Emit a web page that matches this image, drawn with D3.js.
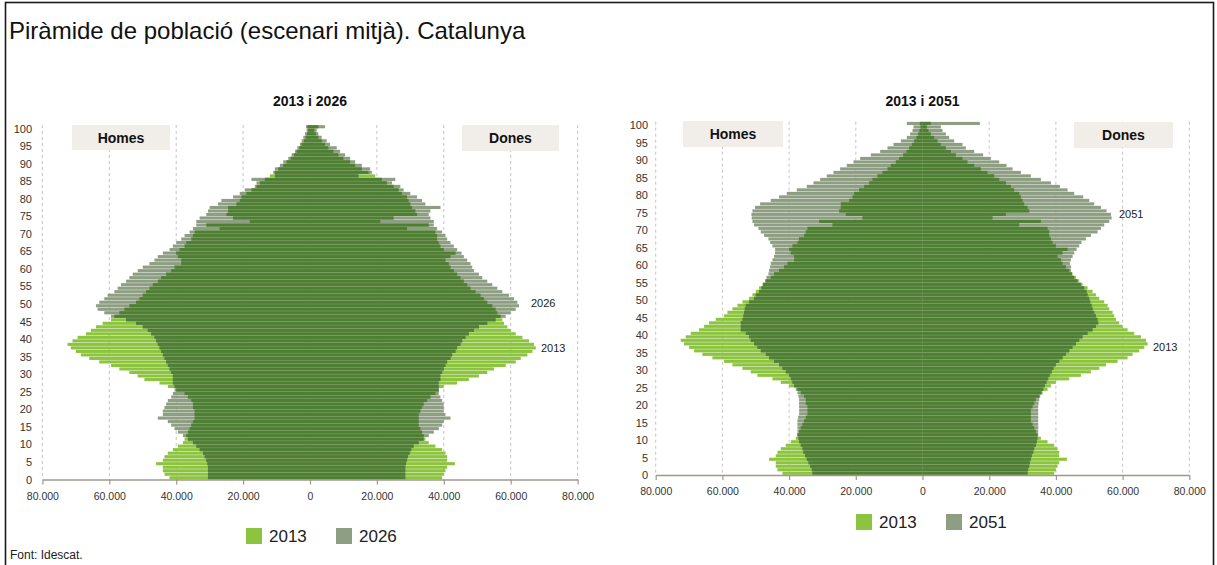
<!DOCTYPE html>
<html><head><meta charset="utf-8">
<script src="https://cdn.jsdelivr.net/npm/d3@7"></script>
<style>
html,body{margin:0;padding:0;background:#fff;}
svg{display:block;font-family:"Liberation Sans",Arial,Helvetica,sans-serif;}
</style></head>
<body><svg id="c" width="1217" height="565"></svg>
<script>
// ---------- DATA (thousands of people) ----------
const ages = d3.range(0, 101);
const ageTicks = d3.range(0, 101, 5);
const xTickValues = [-80, -60, -40, -20, 0, 20, 40, 60, 80];
const xTickLabels = ["80.000","60.000","40.000","20.000","0","20.000","40.000","60.000","80.000"];

const men2013 = [42,43.5,44,44,46,44,43.5,42.5,41,39.5,
 38,37.5,37,36.5,36,35.5,35,34.5,34.5,34.5,
 35,35,35.5,36.5,37.5,40,42.5,45,49.5,51.5,
 54,57,59.5,63,66,68.5,70,71.5,72.5,71,
 69.5,67,65.5,64,62,59.5,58.5,57,55.5,54,
 52,51,50,49,48,47,45.5,44.5,43,41.5,
 40.5,38.5,38.5,39.5,40,39,37.5,37,35.5,35,
 34.5,27,31,18,23,25,24.5,24.5,22,21,
 20.5,19,17.5,16,15,13.5,12,10.5,9.5,8,
 7,5.8,4.8,4,3.2,2.5,1.8,1.3,0.9,0.6,0.8];
const women2013 = [39.5,40,40.5,41,43.3,41,41,40.5,39.5,37.5,
 35.5,34.5,34,33.5,33,32.5,32.5,32.5,32.5,33,
 33.5,34,35,36,37.5,38.5,40,44,47.5,50.5,
 53,55,58.5,61.5,63,65,66.5,67.5,67,65.5,
 63.5,61.5,60,59,58,57.5,57,56,55.5,54.5,
 53,52,51,49.5,48,47,46,45,44,43,
 42,41.5,40.5,42,43.5,40,39,38.5,38,38,
 37.5,29,35.5,21,25,32,31.5,30.5,30,29.5,
 29,27.5,26.5,25,23,21.5,19.5,17.5,15.5,13.5,
 12,10,8.5,7,5.5,4.5,3.5,2.5,1.8,1.3,2.5];
const men2026 = [30.5,30.5,30.5,30.5,30.7,31,31.5,32,33,34,
 35,36.5,38,39.5,40.5,41.5,42.5,45.5,44,44,
 43.5,43,42.5,41.5,41,40.5,40.5,41,41,41,
 41.5,42,42.5,43,43.5,44,44.5,45,45.5,46,
 46.5,47.5,48.5,50,52,55,59.5,61.5,63.5,64,
 63,61.5,60.5,58.5,57.5,56.5,55,54,53,51.5,
 50,48,46.5,45.5,44,42,41,40,38.5,37.5,
 36,35,34,34,33,31,30.5,30,27.5,26.5,
 23,21,19.5,16.5,16,17.5,10.5,11,10.5,9,
 8,6.5,5.5,4.5,3.8,3,2.5,2,1.5,1,1.2];
const women2026 = [28.5,28.5,28.5,28.5,28.7,29,29.3,29.8,30.3,31,
 32.5,34,35.5,37,38.5,39.5,40,42,40.5,40,
 40,40,39.5,39,38.5,38.5,38.5,38.5,39,39,
 39.5,40,40.5,41,42,42.5,43.5,44,45,45.5,
 46.5,47.5,49,50.5,53,55.5,58.5,60,61.5,62.5,
 62,61,59.5,57.5,56,54.5,53,51.5,50.5,49,
 48.5,48,47,46,45.3,44,43,42,41,40.5,
 39.5,38,37,37,36,35.5,36,39,34.5,33.5,
 32,30,28,27,24.5,25.5,14.5,18.5,18,15.5,
 13.5,12,10.5,9,8,6,5,3.5,2.5,2,4.5];
const men2051 = [33,33.2,33.7,34.2,34.7,35.2,35.7,36,36.5,37,
 37.2,37.5,37.5,37.5,37.5,37.5,37.3,37,37,37,
 37,37,37.2,37.5,38,38.5,39,39.5,40,41,
 42,43,44.5,46,47,48.5,49.5,50.5,51.5,52,
 53,54.5,54.5,54.5,54,53.7,53.5,53.3,53,52,
 50.5,50,49,48.3,47.8,47.2,46.8,46.2,46,45.7,
 45.5,45,44.5,44.2,44.2,45,45.7,46.2,47.5,48.5,
 49.2,50.5,51,51.2,51.3,51,50.2,48.7,45.5,43,
 40.7,37.7,34.7,32.7,30.7,28.7,26.7,24.7,22.7,20.7,
 18.7,15.5,12.7,10.5,8.7,6.5,4.7,3.7,3,2.7,4.7];
const women2051 = [31.5,31.7,32,32.2,32.5,32.8,33.2,33.5,34,34.3,
 34.5,34.7,34.7,34.7,34.7,34.7,34.7,34.7,34.7,34.7,
 34.8,35,35.3,35.7,36.2,36.7,37.2,37.7,38.2,38.8,
 39.3,40,41,42,43,44,45,46,47,48,
 49.5,51,52,52.7,52.5,52,51.5,51,50.7,50.3,
 50,49.5,49.2,48.5,47.5,46.5,45.5,44.8,44.5,44.5,
 44.2,44.5,45,45.5,46.2,47,47.7,49,50.5,52.5,
 53.5,54.5,56,56.7,56.5,55.2,53.5,51.5,50,48.2,
 45.5,43.5,41.2,38.5,35.5,32.5,29.5,27,25.2,23,
 20.5,18.2,15.5,13,12,9.5,8,7,6,5.5,17.2];

const titleText = "Piràmide de població (escenari mitjà). Catalunya";
const sourceText = "Font: Idescat.";

// ---------- STYLE ----------
const C13 = "#8cc43f", COTHER = "#8e9e83", CBOTH = "#4f7f34";
const svg = d3.select("#c");
svg.append("rect").attr("x",5.5).attr("y",2.5).attr("width",1208).attr("height",575)
  .attr("fill","none").attr("stroke","#1a1a1a").attr("stroke-width",1.6);
svg.append("text").attr("x",9).attr("y",39).attr("font-size",24).attr("fill","#111").text(titleText);
svg.append("text").attr("x",10).attr("y",559).attr("font-size",12).attr("fill","#222").text(sourceText);

const charts = [
 {sub:"2013 i 2026", x0:42.4, x1:577.6, top:125, bottom:479.5, subY:106,
  menO:men2026, womenO:women2026, yearO:"2026", yLabX:32,
  boxH:{x:72,y:125,w:98,h:25}, boxD:{x:462,y:125,w:97,h:26},
  lab13:{x:541,y:352}, labO:{x:531,y:307},
  leg:{x:246,y:528}},
 {sub:"2013 i 2051", x0:655.7, x1:1189.3, top:121.7, bottom:475, subY:106,
  menO:men2051, womenO:women2051, yearO:"2051", yLabX:648,
  boxH:{x:683,y:121,w:100,h:26}, boxD:{x:1074,y:122,w:99,h:26},
  lab13:{x:1153,y:351}, labO:{x:1119,y:218},
  leg:{x:856,y:514}}
];

charts.forEach(cf => {
  const g = svg.append("g");
  const x = d3.scaleLinear().domain([-80, 80]).range([cf.x0, cf.x1]);
  const y = d3.scaleBand().domain(ages).range([cf.bottom, cf.top]).paddingInner(0);
  const yLab = d3.scaleLinear().domain([0, 101]).range([cf.bottom, cf.top]);
  const bh = y.bandwidth() - 0.4;
  const cx = x(0);

  // grid
  g.selectAll(".grid").data(xTickValues).enter().append("line")
    .attr("x1", d => x(d)).attr("x2", d => x(d))
    .attr("y1", cf.top).attr("y2", cf.bottom)
    .attr("stroke", "#c4c4c4").attr("stroke-dasharray", "3,3").attr("stroke-width", 1);

  // boxes
  [[cf.boxH,"Homes"],[cf.boxD,"Dones"]].forEach(([b,t]) => {
    g.append("rect").attr("x",b.x).attr("y",b.y).attr("width",b.w).attr("height",b.h).attr("fill","#f1eeea");
    g.append("text").attr("x",b.x+b.w/2).attr("y",b.y+b.h/2+5).attr("text-anchor","middle")
      .attr("font-size",14).attr("font-weight","bold").attr("fill","#111").text(t);
  });

  function bars(vals, side, color) {
    g.append("g").selectAll("rect").data(ages).enter().append("rect")
      .attr("x", a => side < 0 ? x(-vals(a)) : cx)
      .attr("width", a => side < 0 ? cx - x(-vals(a)) : x(vals(a)) - cx)
      .attr("y", a => y(a) + 0.2).attr("height", bh).attr("fill", color);
  }
  bars(a => men2013[a], -1, C13);
  bars(a => women2013[a], 1, C13);
  bars(a => cf.menO[a], -1, COTHER);
  bars(a => cf.womenO[a], 1, COTHER);
  bars(a => Math.min(men2013[a], cf.menO[a]), -1, CBOTH);
  bars(a => Math.min(women2013[a], cf.womenO[a]), 1, CBOTH);

  // x axis
  const xa = g.append("g").attr("transform", `translate(0,${cf.bottom})`)
    .call(d3.axisBottom(x).tickValues(xTickValues).tickFormat((d,i) => xTickLabels[i])
      .tickSize(5).tickSizeOuter(0).tickPadding(8));
  xa.select(".domain").attr("stroke", "#a1968d").attr("stroke-width", 1.4);
  xa.selectAll(".tick line").attr("stroke", "#a1968d").attr("stroke-width", 1.2);
  xa.selectAll("text").attr("font-size", 10.5).attr("fill", "#333")
    .attr("font-family", "Liberation Sans, Arial, sans-serif");

  // y axis labels
  const ya = g.append("g").attr("transform", `translate(${cf.yLabX},0)`)
    .call(d3.axisLeft(yLab).tickValues(ageTicks).tickSize(0).tickPadding(0));
  ya.select(".domain").remove();
  ya.selectAll("text").attr("font-size", 11).attr("fill", "#333")
    .attr("font-family", "Liberation Sans, Arial, sans-serif");

  // subtitle
  g.append("text").attr("x", cx).attr("y", cf.subY).attr("text-anchor","middle")
    .attr("font-size", 14).attr("font-weight","bold").attr("fill","#111").text(cf.sub);

  // year labels
  g.append("text").attr("x", cf.labO.x).attr("y", cf.labO.y).attr("font-size", 11).attr("fill","#222").text(cf.yearO);
  g.append("text").attr("x", cf.lab13.x).attr("y", cf.lab13.y).attr("font-size", 11).attr("fill","#222").text("2013");

  // legend
  const L = g.append("g").attr("transform", `translate(${cf.leg.x},${cf.leg.y})`);
  [["2013", C13, 0], [cf.yearO, COTHER, 90]].forEach(([t,c,dx]) => {
    L.append("rect").attr("x", dx).attr("y", 0).attr("width", 16).attr("height", 16).attr("fill", c);
    L.append("text").attr("x", dx + 23).attr("y", 14).attr("font-size", 17).attr("fill","#222").text(t);
  });
});
</script></body></html>
